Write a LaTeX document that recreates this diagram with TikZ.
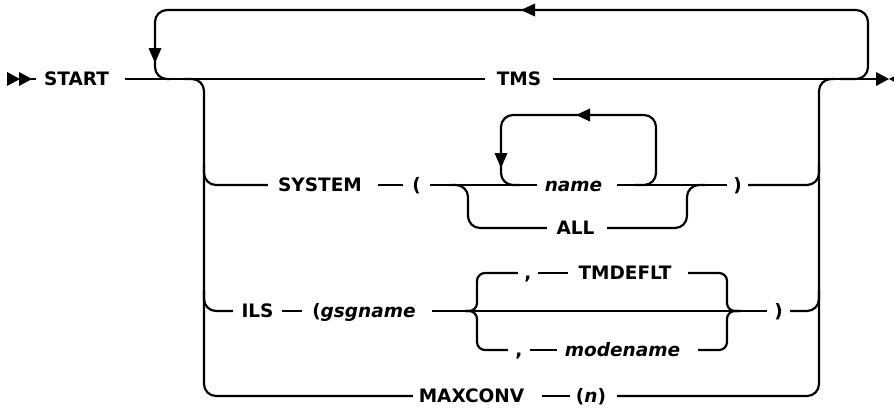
\documentclass[tikz,border=0pt]{standalone}
\usepackage{fontspec}
\setmainfont{DejaVu Sans}
\begin{document}
\begin{tikzpicture}[x=1pt,y=-1pt,
  ln/.style={line width=2.2pt},
  rr/.style={line width=2.2pt, rounded corners=12pt},
  br/.style={line width=2.2pt, rounded corners=8pt},
  lbl/.style={inner xsep=0pt, inner ysep=0pt, text height=13.5pt, text depth=0pt,
              font=\fontsize{18.5}{21}\selectfont\bfseries},
  tipfill/.style={fill=black}]
\useasboundingbox (0,0) rectangle (894,408);

% labels (each node spans the gap between the line ends around it)
\node[lbl, minimum width=89pt] (START) at (80.5,79) {\hspace*{-8pt}START};
\node[lbl, minimum width=68pt] (TMS) at (519,79) {TMS};
\node[lbl, minimum width=110pt] (SYSTEM) at (323,185) {\hspace*{-6pt}SYSTEM};
\node[lbl, minimum width=27pt] (lpA) at (416.5,185) {(};
\node[lbl, minimum width=80pt] (name) at (577,185) {\hspace*{-7pt}\itshape name};
\node[lbl, minimum width=60pt] (ALL) at (577,228) {\hspace*{-3pt}ALL};
\node[lbl, minimum width=21pt] (rpA) at (737.5,185) {)};
\node[lbl, minimum width=49pt] (ILS) at (257.5,311) {ILS};
\node[lbl, minimum width=130pt] (gsg) at (367,311) {\hspace*{-6pt}(\textit{gsgname}};
\node[lbl, minimum width=20pt] (commaA) at (528,273) {,};
\node[lbl, minimum width=120pt] (TMDEFLT) at (628,273) {\hspace*{-6pt}TMDEFLT};
\node[lbl, minimum width=22pt] (commaB) at (519,350) {,};
\node[lbl, minimum width=141pt] (modename) at (627.5,350) {\hspace*{-10pt}\itshape modename};
\node[lbl, minimum width=23pt] (rpB) at (778.5,311) {)};
\node[lbl, minimum width=129pt] (MAXCONV) at (477.5,396) {\hspace*{-12pt}MAXCONV};
\node[lbl, minimum width=47pt] (n) at (593.5,396) {\hspace*{-5pt}(\textit{n})};

\coordinate (startpt) at (31,79);
\coordinate (endpt) at (878,79);

% main line
\draw[ln] (startpt) -- (START.west);
\draw[ln] (START.east) -- (TMS.west);
\draw[ln] (TMS.east) -- (endpt);
% top repeat loop
\draw[rr] (840,79) -| (868,10) -| (155,79) -- (170,79);
% left and right rails
\draw[rr] (185,79) -| (204,396) -- (MAXCONV.west);
\draw[rr] (204,165) |- (SYSTEM.west);
\draw[rr] (204,290) |- (ILS.west);
\draw[rr] (n.east) -| (819,79) -- (835,79);
\draw[rr] (rpA.east) -| (819,165);
\draw[rr] (rpB.east) -| (819,290);

% SYSTEM row
\draw[ln] (SYSTEM.east) -- (lpA.west);
\draw[ln] (lpA.east) -- (name.west);
\draw[ln] (name.east) -- (rpA.west);
\draw[rr] (635,185) -| (656,115) -| (501,185) -- (520,185);
\draw[rr] (450,185) -| (468,228) -- (ALL.west);
\draw[rr] (ALL.east) -| (687,185) -- (705,185);

% ILS row
\draw[ln] (ILS.east) -- (gsg.west);
\draw[ln] (gsg.east) -- (rpB.west);
\draw[br] (465,311) -| (477,273) -- (commaA.west);
\draw[br] (465,311) -| (477,350) -- (commaB.west);
\draw[ln] (commaA.east) -- (TMDEFLT.west);
\draw[ln] (commaB.east) -- (modename.west);
\draw[br] (TMDEFLT.east) -| (727,311) -- (740,311);
\draw[br] (modename.east) -| (727,311) -- (740,311);

% MAXCONV row
\draw[ln] (MAXCONV.east) -- (n.west);

% markers
\fill[tipfill] (7,72) -- (20,79) -- (7,86) -- cycle;
\fill[tipfill] (19,72) -- (32,79) -- (19,86) -- cycle;
\fill[tipfill] (876,72) -- (889,79) -- (876,86) -- cycle;
\fill[tipfill] (902,72) -- (889,79) -- (902,86) -- cycle;

% arrowheads on loops
\fill[tipfill] (521,10) -- (535,3.5) -- (535,16.5) -- cycle;
\fill[tipfill] (155,63) -- (148.5,48) -- (161.5,48) -- cycle;
\fill[tipfill] (576,115) -- (590,108.5) -- (590,121.5) -- cycle;
\fill[tipfill] (501,168) -- (494.5,153) -- (507.5,153) -- cycle;
\end{tikzpicture}
\end{document}
